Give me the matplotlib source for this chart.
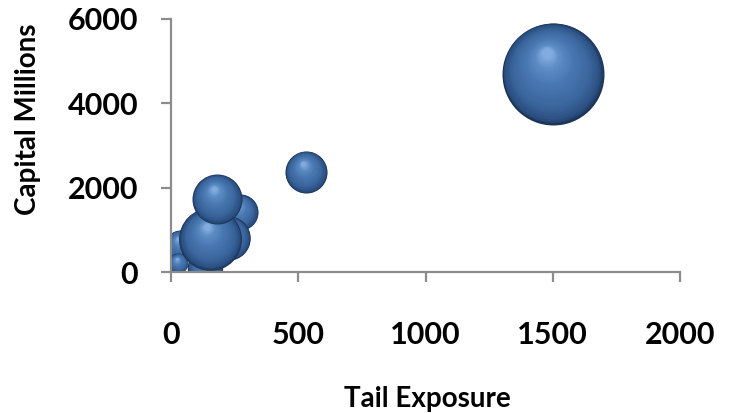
import numpy as np
import matplotlib
matplotlib.use("Agg")
import matplotlib.pyplot as plt
from matplotlib.transforms import ScaledTranslation
from matplotlib.colors import LinearSegmentedColormap

# Portfolio data: tail exposure vs capital, bubble size = relative weight
tail_exposure = [270, 225, 35, 28, 135, 155, 180, 530, 1500]
capital_millions = [1420, 800, 640, 210, 100, 780, 1730, 2370, 4700]
bubble_size = [12.5, 19, 8.6, 3.8, 12, 38, 24, 17, 100]

x_ticks = [0, 500, 1000, 1500, 2000]
y_ticks = [0, 2000, 4000, 6000]

W, H, DPI = 738, 413, 100
fig = plt.figure(figsize=(W / DPI, H / DPI), dpi=DPI)
ax = fig.add_axes([171 / W, 1 - 272 / H, (680 - 171) / W, (272 - 19) / H])

# shading ramp for the glossy spheres (edge -> highlight)
sphere_cmap = LinearSegmentedColormap.from_list(
    "sphere",
    [(0.0, "#1c3456"), (0.06, "#2a4e80"), (0.25, "#3a659c"),
     (0.6, "#4a78b2"), (0.85, "#5f8dc6"), (1.0, "#82acdf")],
)

max_size = max(bubble_size)
max_diam_pt = 102 * 72 / DPI  # diameter of the largest bubble in points
n_layers = 40
hx, hy = -0.12, 0.40  # highlight offset as a fraction of the radius

for x, y, b in zip(tail_exposure, capital_millions, bubble_size):
    diam = max_diam_pt * np.sqrt(b / max_size)
    R = diam / 2
    for k in range(n_layers):
        t = k / (n_layers - 1)
        r = R * (1 - 0.9 * t)
        off = ScaledTranslation(hx * R * t / 72, hy * R * t / 72, fig.dpi_scale_trans)
        ax.scatter([x], [y], s=(2 * r) ** 2, color=sphere_cmap(t),
                   linewidths=0, transform=ax.transData + off, zorder=2)

ax.set_xlim(0, 2000)
ax.set_ylim(0, 6000)
ax.set_xticks(x_ticks)
ax.set_yticks(y_ticks)

axis_grey = "#8c8c8c"
for side in ("top", "right"):
    ax.spines[side].set_visible(False)
for side in ("left", "bottom"):
    ax.spines[side].set_color(axis_grey)
    ax.spines[side].set_linewidth(1.6)

tick_font = dict(family="Lato", weight="bold", size=22)
ax.tick_params(axis="both", direction="out", length=7.5, width=1.6, color=axis_grey)
ax.tick_params(axis="x", pad=28)
ax.tick_params(axis="y", pad=16)
ax.set_xticklabels([str(v) for v in x_ticks], fontdict=tick_font)
ax.set_yticklabels([str(v) for v in y_ticks], fontdict=tick_font)

fig.text(427 / W, 1 - 399 / H, "Tail Exposure", family="Lato", weight="bold",
         size=20, ha="center", va="center")
fig.text(28 / W, 1 - 119 / H, "Capital Millions", family="Lato", weight="bold",
         size=20, ha="center", va="center", rotation=90)

fig.savefig("out.png", dpi=DPI)
